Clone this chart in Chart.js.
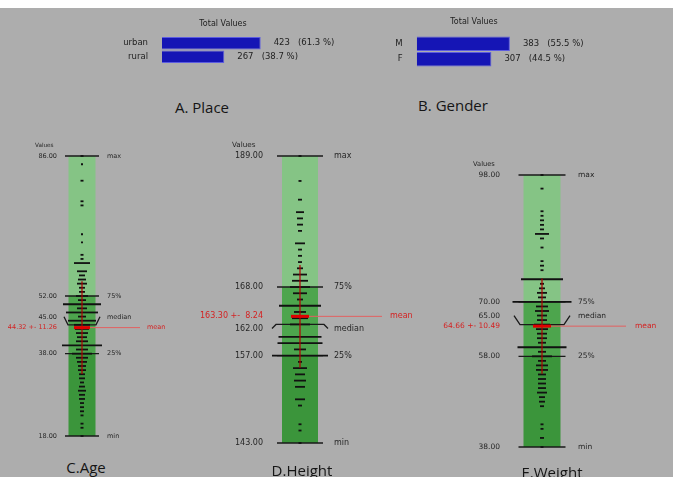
<!DOCTYPE html>
<html lang="en">
<head>
<meta charset="UTF-8">
<title>Descriptive statistics</title>
<script src="https://cdn.jsdelivr.net/npm/chart.js@4.4.1/dist/chart.umd.min.js"></script>
<style>
  body { margin: 0; background: #fff; }
  #page { position: absolute; left: 0; top: 0; width: 673px; height: 477px; background: #adadad; overflow: hidden; }
  #strip { position: absolute; left: 0; top: 0; width: 673px; height: 8px; background: #fff; }
  canvas { position: absolute; }
  .title { position: absolute; font-family: "Open Sans", sans-serif; font-size: 15px; color: #151515;
           transform: translate(-50%, -50%); white-space: nowrap; }
</style>
</head>
<body>
<div id="page">
  <canvas id="place"></canvas>
  <canvas id="gender"></canvas>
  <canvas id="age"></canvas>
  <canvas id="height"></canvas>
  <canvas id="weight"></canvas>
  <div class="title" style="left:202px;top:107px">A. Place</div>
  <div class="title" style="left:453px;top:105px">B. Gender</div>
  <div class="title" style="left:86px;top:467px">C.Age</div>
  <div class="title" style="left:302px;top:470px">D.Height</div>
  <div class="title" style="left:552px;top:472px">E.Weight</div>
  <div id="strip"></div>
</div>

<script>
// categorical totals
const placeLabels = ['urban', 'rural'];
const placeValues = [423, 267];
const genderLabels = ['M', 'F'];
const genderValues = [383, 307];

// numeric variables: observed values and how many people have each (dash width)
const ageValues = [86, 84, 80, 75, 74, 67, 65, 62, 61, 60, 58, 57, 56, 55, 54, 53, 52, 51, 50, 49,
  48, 47, 46, 45, 44, 43, 42, 41, 40, 39, 38, 37, 36, 35, 34, 33, 32, 31, 30, 29, 28, 27, 26, 25, 24, 23, 21, 20, 18];
const ageCounts = [3, 2, 3, 3, 3, 2, 2, 3, 3, 16, 10, 6, 8, 10, 6, 6, 12, 8, 38, 10,
  32, 8, 28, 16, 14, 12, 10, 12, 40, 12, 20, 12, 10, 8, 8, 6, 6, 4, 6, 8, 6, 6, 4, 4, 4, 3, 3, 3, 3];
const ageQuartiles = [18, 38, 45, 52, 86];   // min, 25%, median, 75%, max
const ageMeanSd = [44.32, 11.26];

const heightValues = [189, 185, 182, 180, 179, 178, 177, 175, 174, 173, 172, 171, 170, 169, 168, 167, 166, 165,
  164, 163, 162, 160, 159, 158, 157, 156, 155, 154, 153, 152, 150, 149, 146, 145, 143];
const heightCounts = [3, 3, 4, 8, 6, 6, 4, 10, 4, 4, 4, 6, 14, 16, 20, 14, 6, 42,
  12, 16, 20, 43, 45, 12, 56, 4, 14, 10, 12, 10, 10, 4, 3, 3, 3];
const heightQuartiles = [143, 157, 162, 168, 189];
const heightMeanSd = [163.30, 8.24];

const weightValues = [98, 95, 90, 89, 88, 87, 86, 85, 84, 82, 79, 78, 77, 75, 74, 73, 72, 71, 70, 69, 68, 67, 66,
  65, 64, 63, 62, 61, 60, 59, 58, 57, 56, 55, 54, 53, 52, 51, 50, 49, 48, 47, 43, 42, 40, 38];
const weightCounts = [3, 3, 3, 3, 4, 4, 4, 14, 4, 3, 3, 4, 3, 42, 4, 6, 10, 8, 59, 12, 14, 10, 10,
  16, 12, 10, 10, 8, 49, 8, 20, 8, 12, 12, 8, 8, 8, 8, 10, 6, 6, 4, 3, 3, 4, 3];
const weightQuartiles = [38, 58, 65, 70, 98];
const weightMeanSd = [64.66, 10.49];

const FONT = '"DejaVu Sans", sans-serif';

function place(canvas, b) {
  canvas.width = b.w; canvas.height = b.h;
  canvas.style.left = b.left + 'px';
  canvas.style.top = b.top + 'px';
}

// category names, value + percentage after each bar, and the small header
const barText = {
  id: 'barText',
  afterDatasetsDraw(chart, args, o) {
    const ctx = chart.ctx;
    const vals = chart.data.datasets[0].data;
    const labels = chart.data.labels;
    const total = vals.reduce((a, v) => a + v, 0);
    const left = chart.chartArea.left;
    ctx.save();
    ctx.fillStyle = '#222';
    ctx.textBaseline = 'middle';
    ctx.font = '8.5px ' + FONT;
    chart.getDatasetMeta(0).data.forEach((bar, i) => {
      const pct = (vals[i] / total * 100).toFixed(1);
      ctx.textAlign = 'left';
      ctx.fillText(vals[i] + '   (' + pct + ' %)', bar.x + 13, bar.y);
      ctx.textAlign = 'right';
      ctx.fillText(labels[i], left - 14, bar.y);
    });
    ctx.textAlign = 'center';
    ctx.font = '8px ' + FONT;
    ctx.fillText('Total Values', o.titleX, o.titleY);
    ctx.restore();
  }
};

function makeBars(id, labels, values, b) {
  const canvas = document.getElementById(id);
  place(canvas, b);
  new Chart(canvas, {
    type: 'bar',
    data: {
      labels: labels,
      datasets: [{
        data: values,
        backgroundColor: '#1515b5',
        borderColor: '#5c5ce0',
        borderWidth: 1,
        barPercentage: b.barPct,
        categoryPercentage: 1
      }]
    },
    options: {
      indexAxis: 'y',
      responsive: false,
      animation: false,
      layout: {
        autoPadding: false,
        padding: {
          top: b.plotTop - b.top,
          bottom: b.top + b.h - b.plotBottom,
          left: b.plotLeft - b.left,
          right: b.left + b.w - (b.plotLeft + b.plotWidth)
        }
      },
      scales: {
        x: { display: false, min: 0, max: 600 },
        y: { display: false }
      },
      plugins: {
        legend: { display: false },
        tooltip: { enabled: false },
        barText: { titleX: b.titleX - b.left, titleY: b.titleY - b.top }
      }
    },
    plugins: [barText]
  });
}

// green band, quartile lines, mean line and all labels of a strip plot
const stripDeco = {
  id: 'stripDeco',
  beforeDatasetsDraw(chart, args, o) {
    const ctx = chart.ctx;
    const ys = chart.scales.y;
    const cx = chart.scales.x.getPixelForValue(0);
    const py = v => ys.getPixelForValue(v);
    const [mn, q1, med, q3, mx] = o.quart;
    ctx.save();
    const zone = (lo, hi, c) => {
      ctx.fillStyle = c;
      ctx.fillRect(cx - o.band, py(hi), o.band * 2, py(lo) - py(hi));
    };
    zone(q3, mx, '#85c485');
    zone(q1, q3, '#4da54d');
    zone(mn, q1, '#3b953b');

    ctx.strokeStyle = '#1a1a1a';
    ctx.lineWidth = 1.3;
    [mn, q1, q3, mx].forEach(v => {
      ctx.beginPath();
      ctx.moveTo(cx - o.line, py(v));
      ctx.lineTo(cx + o.line, py(v));
      ctx.stroke();
    });
    const my = py(med);
    ctx.beginPath();
    ctx.moveTo(cx - o.medOuter, my + o.medShift);
    ctx.lineTo(cx - o.medInner, my);
    ctx.lineTo(cx + o.medInner, my);
    ctx.lineTo(cx + o.medOuter, my + o.medShift);
    ctx.stroke();

    ctx.strokeStyle = '#e26060';
    ctx.lineWidth = 1;
    const yMean = py(o.meanSd[0]);
    ctx.beginPath();
    ctx.moveTo(cx, yMean);
    ctx.lineTo(cx + o.meanLine, yMean);
    ctx.stroke();
    ctx.restore();
  },
  afterDatasetsDraw(chart, args, o) {
    const ctx = chart.ctx;
    const ys = chart.scales.y;
    const cx = chart.scales.x.getPixelForValue(0);
    const py = v => ys.getPixelForValue(v);
    const names = ['min', '25%', 'median', '75%', 'max'];
    ctx.save();
    ctx.textBaseline = 'middle';
    ctx.fillStyle = '#262626';
    ctx.font = o.font + 'px ' + FONT;
    o.quart.forEach((v, i) => {
      const y = py(v) + (i === 2 ? o.medShift : 0);
      ctx.textAlign = 'right';
      ctx.fillText(v.toFixed(2), cx + o.leftText, y);
      ctx.textAlign = 'left';
      ctx.fillText(names[i], cx + o.rightText, y);
    });
    ctx.font = (o.font - 0.8) + 'px ' + FONT;
    ctx.fillText('Values', cx + o.valuesX, py(o.quart[4]) - 10.5);

    const [mean, sd] = o.meanSd;
    ctx.fillStyle = '#d42222';
    ctx.font = o.font + 'px ' + FONT;
    ctx.textAlign = 'right';
    ctx.fillText(mean.toFixed(2) + ' +- ' + sd.toFixed(2).padStart(5, ' '), cx + o.leftText, py(mean));
    ctx.textAlign = 'left';
    ctx.fillText('mean', cx + o.meanText, py(mean));
    ctx.restore();
  }
};

function makeStrip(id, values, counts, quart, meanSd, L) {
  const canvas = document.getElementById(id);
  place(canvas, L);
  const [mean, sd] = meanSd;
  new Chart(canvas, {
    type: 'scatter',
    data: {
      datasets: [
        {
          // mean marker
          data: [{ x: 0, y: mean }],
          pointStyle: 'line',
          pointRadius: L.meanHalf,
          borderColor: '#e00000',
          borderWidth: 3,
          clip: false
        },
        {
          // mean +- sd
          type: 'line',
          data: [{ x: 0, y: mean - sd }, { x: 0, y: mean + sd }],
          borderColor: '#b00000',
          borderWidth: 1.2,
          pointRadius: 0,
          clip: false
        },
        {
          data: values.map(v => ({ x: 0, y: v })),
          pointStyle: 'line',
          pointRadius: counts.map(c => c / 2),
          borderColor: '#111',
          borderWidth: 1.8,
          clip: false
        }
      ]
    },
    options: {
      responsive: false,
      animation: false,
      layout: {
        autoPadding: false,
        padding: {
          top: L.yTop - L.top,
          bottom: L.top + L.h - L.yBot,
          left: L.cx - 20 - L.left,
          right: L.left + L.w - (L.cx + 20)
        }
      },
      scales: {
        x: { display: false, min: -1, max: 1 },
        y: { display: false, min: quart[0], max: quart[4] }
      },
      plugins: {
        legend: { display: false },
        tooltip: { enabled: false },
        stripDeco: Object.assign({ quart: quart, meanSd: meanSd }, L)
      }
    },
    plugins: [stripDeco]
  });
}

makeBars('place', placeLabels, placeValues, {
  left: 100, top: 8, w: 250, h: 70,
  plotLeft: 162, plotTop: 36.5, plotBottom: 63.5, plotWidth: 140, barPct: 0.94,
  titleX: 223, titleY: 24
});
makeBars('gender', genderLabels, genderValues, {
  left: 370, top: 8, w: 260, h: 72,
  plotLeft: 416.7, plotTop: 36, plotBottom: 67, plotWidth: 146, barPct: 0.93,
  titleX: 474, titleY: 21.5
});

makeStrip('age', ageValues, ageCounts, ageQuartiles, ageMeanSd, {
  left: 0, top: 130, w: 200, h: 320, cx: 82, yTop: 156, yBot: 436,
  band: 13.5, line: 17, medInner: 14, medOuter: 18, medShift: -8,
  leftText: -25, rightText: 25, valuesX: -47, meanText: 65, meanLine: 58, meanHalf: 8, font: 6.5
});
makeStrip('height', heightValues, heightCounts, heightQuartiles, heightMeanSd, {
  left: 195, top: 130, w: 245, h: 325, cx: 300, yTop: 156, yBot: 443,
  band: 18, line: 23, medInner: 24, medOuter: 28, medShift: 4,
  leftText: -37, rightText: 34, valuesX: -68, meanText: 90, meanLine: 82, meanHalf: 9, font: 8
});
makeStrip('weight', weightValues, weightCounts, weightQuartiles, weightMeanSd, {
  left: 430, top: 150, w: 243, h: 310, cx: 542, yTop: 175, yBot: 447,
  band: 18.5, line: 23.5, medInner: 22, medOuter: 28, medShift: -9,
  leftText: -42, rightText: 36, valuesX: -69, meanText: 93, meanLine: 84, meanHalf: 9, font: 7.5
});
</script>
</body>
</html>
